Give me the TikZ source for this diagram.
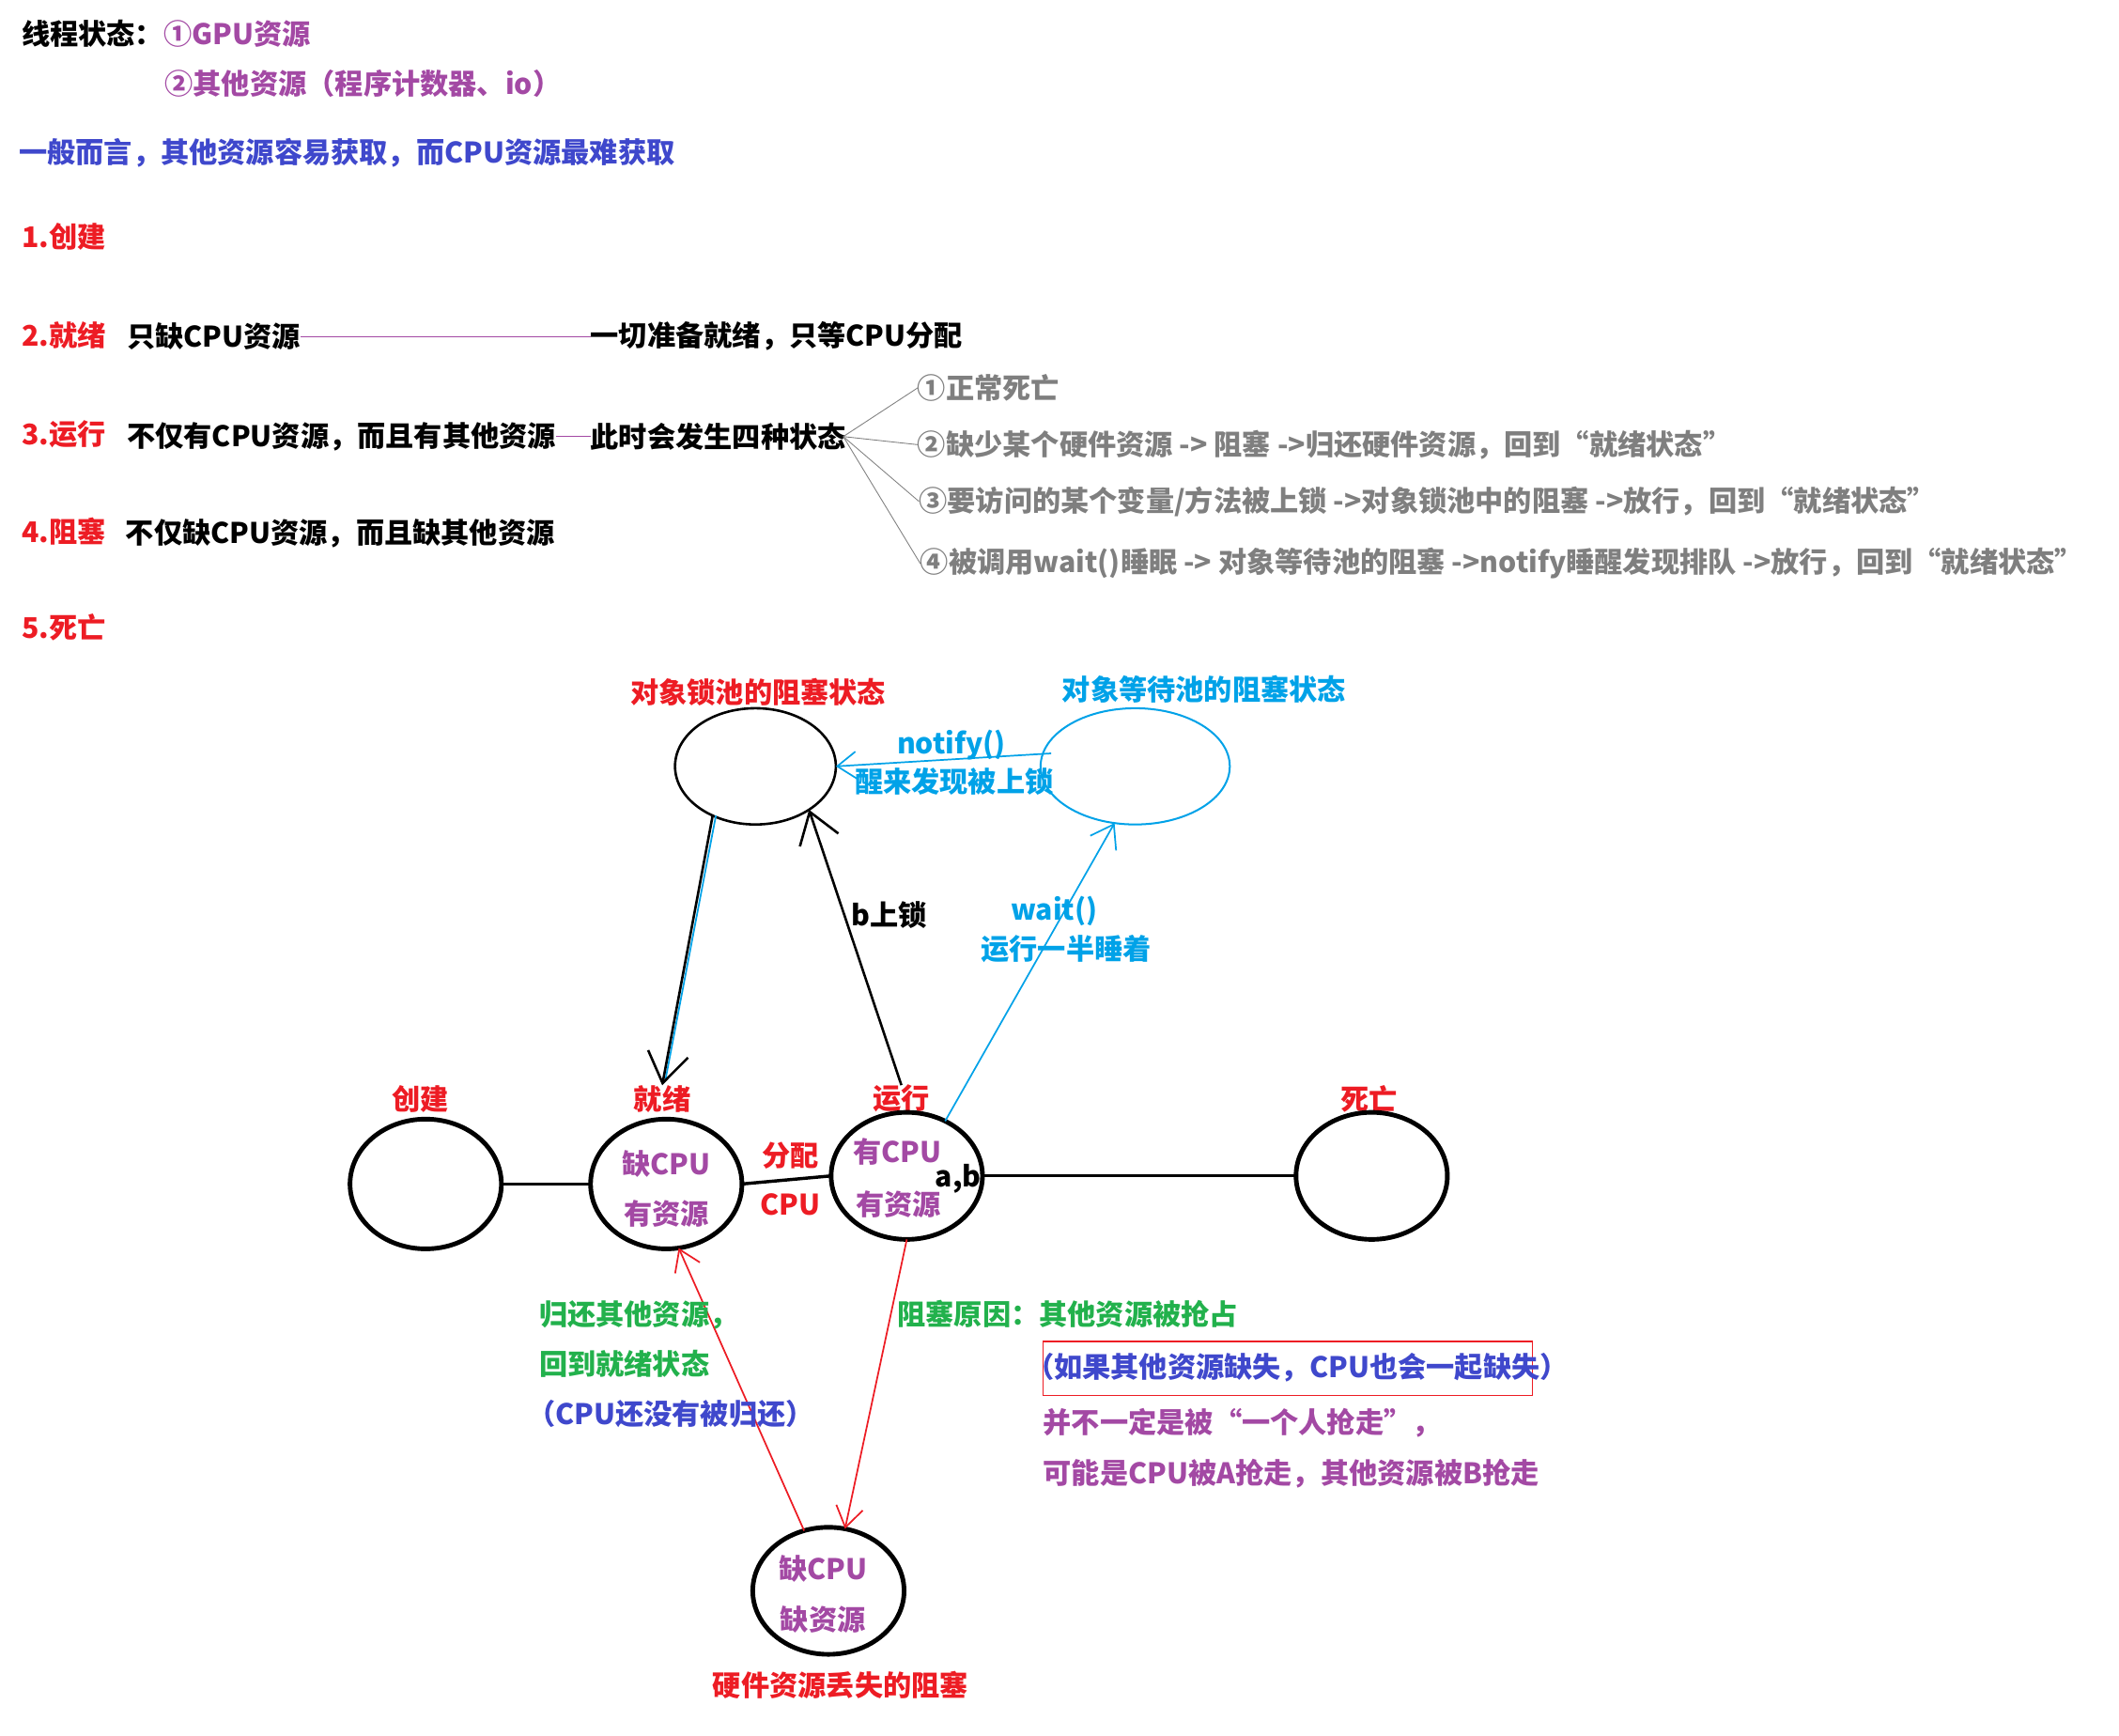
\documentclass[tikz,border=0pt]{standalone}
\usepackage{fontspec}
\setmainfont{Noto Sans CJK SC}
\usetikzlibrary{shapes.geometric,arrows.meta,calc}
\definecolor{pRed}{HTML}{ED1C24}
\definecolor{pBlue}{HTML}{3F48CC}
\definecolor{pCyan}{HTML}{00A2E8}
\definecolor{pGreen}{HTML}{22B14C}
\definecolor{pPurple}{HTML}{A349A4}
\definecolor{pGray}{HTML}{7F7F7F}
\newcommand\fsz{\fontsize{10.5pt}{12pt}\selectfont\bfseries}
\tikzset{
  txt/.style={inner sep=0pt, outer sep=0pt, font=\fsz},
  lt/.style={txt, anchor=west},
  circ/.style={draw, ellipse, inner sep=0pt, outer sep=0pt, line width=1.7pt,
               minimum width=56pt, minimum height=48pt},
  pool/.style={draw, ellipse, inner sep=0pt, outer sep=0pt, line width=0.9pt,
               minimum height=43pt},
  link/.style={line width=1.2pt},
  fanline/.style={pGray, line width=0.3pt},
  conn/.style={pPurple, line width=0.4pt},
  blkarrow/.style={line width=0.9pt, -{Straight Barb[length=11pt,width=15pt]}},
  cyanarrow/.style={pCyan, line width=0.6pt, -{Straight Barb[length=8pt,width=11pt]}},
  redarrow/.style={pRed, line width=0.6pt, -{Straight Barb[length=7.5pt,width=10pt]}}
}
\begin{document}
\begin{tikzpicture}[x=0.5pt,y=-0.5pt]
\fill[white] (0,0) rectangle (1568,1284);
\useasboundingbox (0,0) rectangle (1568,1284);

% ---------- header ----------
\node[lt] (h1) at (16,25) {线程状态：};
\node[lt,text=pPurple] (h2) at (121,25) {①GPU资源};
\node[lt,text=pPurple] (h3) at (122,62) {②其他资源（程序计数器、io）};
\node[lt,text=pBlue] (h4) at (14,113) {一般而言，其他资源容易获取，而CPU资源最难获取};

% ---------- list ----------
\node[lt,text=pRed] (s1) at (16,175) {1.创建};
\node[lt,text=pRed] (s2) at (16,248) {2.就绪};
\node[lt] (r2a) at (94,249) {只缺CPU资源};
\node[lt] (r2b) at (437,249) {一切准备就绪，只等CPU分配};
\draw[conn] (r2a.east) -- (r2b.west);

\node[lt,text=pRed] (s3) at (16,321) {3.运行};
\node[lt] (r3a) at (94,323) {不仅有CPU资源，而且有其他资源};
\node[lt] (r3b) at (437,323) {此时会发生四种状态};
\draw[conn] (r3a.east) -- (r3b.west);

\node[lt,text=pGray] (o1) at (679,287) {①正常死亡};
\node[lt,text=pGray] (o2) at (679,329) {②缺少某个硬件资源 -> 阻塞 ->归还硬件资源，回到“就绪状态”};
\node[lt,text=pGray] (o3) at (680,371) {③要访问的某个变量/方法被上锁 ->对象锁池中的阻塞 ->放行，回到“就绪状态”};
\node[lt,text=pGray] (o4) at (681,417) {④被调用wait()睡眠 -> 对象等待池的阻塞 ->notify睡醒发现排队 ->放行，回到“就绪状态”};
\coordinate (fan) at (624,323);
\foreach \o in {o1,o2,o3,o4} \draw[fanline] (fan) -- (\o.west);

\node[lt,text=pRed] (s4) at (16,393) {4.阻塞};
\node[lt] (r4) at (93,395) {不仅缺CPU资源，而且缺其他资源};
\node[lt,text=pRed] (s5) at (16,464) {5.死亡};

% ---------- pools ----------
\node[txt,text=pRed] (lockT) at (561,512) {对象锁池的阻塞状态};
\node[txt,text=pCyan] (waitT) at (891,510) {对象等待池的阻塞状态};
\node[pool, minimum width=59.5pt] (lock) at (559,567) {};
\node[pool, draw=pCyan, line width=0.7pt, minimum width=70pt] (wait) at (840,567) {};

\draw[cyanarrow, -{Straight Barb[length=7pt,width=10pt]}] ($(wait.172)+(6,0)$) -- (lock.east);
\node[txt,text=pCyan] (nl1) at (704,551) {notify()};
\node[txt,text=pCyan] (nl2) at (706,578) {醒来发现被上锁};

% ---------- bottom row ----------
\node[txt,text=pRed] (createT) at (311,813) {创建};
\node[txt,text=pRed] (rdyT) at (490,813) {就绪};
\node[txt,text=pRed] (runT) at (667,813) {运行};
\node[txt,text=pRed] (deadT) at (1013,813) {死亡};

\node[circ] (create) at (315,876) {};
\node[circ] (ready) at (493,876) {};
\node[circ, minimum height=47pt] (run) at (671,870) {};
\node[circ, minimum height=47pt] (dead) at (1015,870) {};

\node[txt,text=pPurple] (ri1) at (493,861) {缺CPU};
\node[txt,text=pPurple] (ri2) at (493,898) {有资源};
\node[txt,text=pPurple] (ui1) at (664,852) {有CPU};
\node[txt,text=pPurple] (ui2) at (665,891) {有资源};
\node[txt] (ab) at (709,872) {a,b};

\draw[link] (create.east) -- (ready.west);
\draw[link] (ready.east) -- (run.west);
\draw[link] (run.east) -- (dead.west);
\node[txt,text=pRed] (fp1) at (585,855) {分配};
\node[txt,text=pRed] (fp2) at (585,891) {CPU};

% lock pool <-> ready / run
\draw[pCyan, line width=0.6pt, transform canvas={xshift=1.2pt}] (lock.229) -- ($(rdyT.north)+(0,-4)$);
\draw[blkarrow] (lock.229) -- (rdyT.north);
\draw[blkarrow] (runT.north) -- (lock.321);
\node[txt] (bl) at (658,677) {b上锁};

\draw[cyanarrow] (run.55) -- (wait.250);
\node[txt,text=pCyan] (wl1) at (780,674) {wait()};
\node[txt,text=pCyan] (wl2) at (789,702) {运行一半睡着};

% ---------- blocked ----------
\node[circ, minimum height=47pt] (blk) at (613,1177) {};
\node[txt,text=pPurple] (bi1) at (609,1161) {缺CPU};
\node[txt,text=pPurple] (bi2) at (609,1198) {缺资源};
\node[txt,text=pRed] (blkT) at (622,1247) {硬件资源丢失的阻塞};

\draw[redarrow] (run.south) -- (blk.75);
\draw[redarrow] (blk.112) -- (ready.281);

\node[lt,text=pGreen] (g1) at (399,973) {归还其他资源，};
\node[lt,text=pGreen] (g2) at (399,1009) {回到就绪状态};
\node[lt,text=pBlue] (b1) at (390,1046) {（CPU还没有被归还）};

\node[lt,text=pGreen] (g3) at (664,972) {阻塞原因：其他资源被抢占};
\draw[pRed, line width=0.5pt] (772,992.5) rectangle (1134,1032.5);
\node[lt,text=pBlue] (b2) at (759,1012) {（如果其他资源缺失，CPU也会一起缺失）};
\node[lt,text=pPurple] (p1) at (772,1053) {并不一定是被“一个人抢走”，};
\node[lt,text=pPurple] (p2) at (772,1090) {可能是CPU被A抢走，其他资源被B抢走};
\end{tikzpicture}
\end{document}
